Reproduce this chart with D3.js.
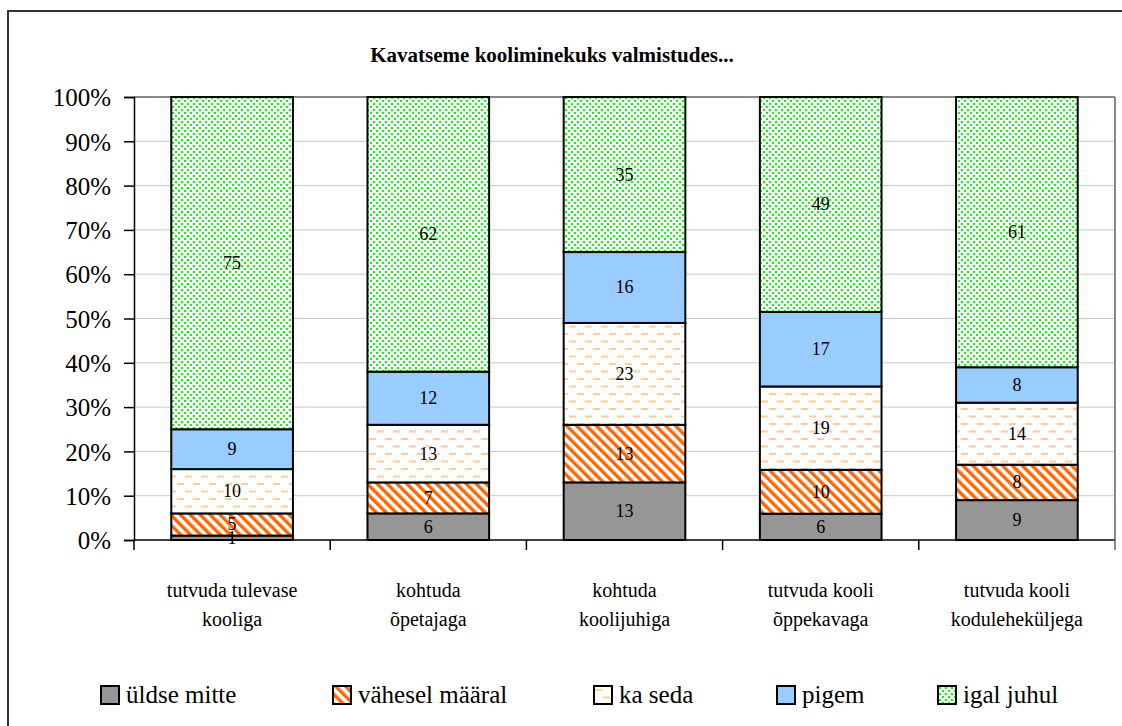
<!DOCTYPE html>
<html>
<head>
<meta charset="utf-8">
<script src="https://cdn.jsdelivr.net/npm/d3@7"></script>
</head>
<body style="margin:0">
<script>
// data
var categories = [
    ["tutvuda tulevase", "kooliga"],
    ["kohtuda", "õpetajaga"],
    ["kohtuda", "koolijuhiga"],
    ["tutvuda kooli", "õppekavaga"],
    ["tutvuda kooli", "koduleheküljega"]
];
var seriesNames = ["üldse mitte", "vähesel määral", "ka seda", "pigem", "igal juhul"];
var yldseMitte    = [1, 6, 13, 6, 9];
var vaheselMaaral = [5, 7, 13, 10, 8];
var kaSeda        = [10, 13, 23, 19, 14];
var pigem         = [9, 12, 16, 17, 8];
var igalJuhul     = [75, 62, 35, 49, 61];
var yTicks = [0, 0.1, 0.2, 0.3, 0.4, 0.5, 0.6, 0.7, 0.8, 0.9, 1];

var values = [yldseMitte, vaheselMaaral, kaSeda, pigem, igalJuhul];
var fills = ["#969696", "url(#hatch)", "url(#dashes)", "#99ccff", "url(#dots)"];
var FONT = "'Liberation Serif'";

var W = 1122, H = 726;
var plot = { left: 134, right: 1115, top: 97, bottom: 540 };

var svg = d3.select("body").append("svg")
    .attr("width", W)
    .attr("height", H);

// patterns
var defs = svg.append("defs");

var hatch = defs.append("pattern")
    .attr("id", "hatch")
    .attr("patternUnits", "userSpaceOnUse")
    .attr("width", 7).attr("height", 7)
    .attr("patternTransform", "rotate(-45)");
hatch.append("rect").attr("width", 7).attr("height", 7).attr("fill", "#fff");
hatch.append("rect").attr("x", 0).attr("width", 3.4).attr("height", 7).attr("fill", "#ff6600");

var dashes = defs.append("pattern")
    .attr("id", "dashes")
    .attr("patternUnits", "userSpaceOnUse")
    .attr("width", 16).attr("height", 15);
dashes.append("rect").attr("width", 16).attr("height", 15).attr("fill", "#fff");
dashes.append("rect").attr("x", 1).attr("y", 3).attr("width", 7).attr("height", 2).attr("fill", "#ffcc99");
dashes.append("rect").attr("x", 9).attr("y", 10.5).attr("width", 7).attr("height", 2).attr("fill", "#ffcc99");

var dots = defs.append("pattern")
    .attr("id", "dots")
    .attr("patternUnits", "userSpaceOnUse")
    .attr("width", 6).attr("height", 6);
dots.append("rect").attr("width", 6).attr("height", 6).attr("fill", "#fff");
dots.append("rect").attr("x", 1).attr("y", 1).attr("width", 2).attr("height", 2).attr("fill", "#00ff00");
dots.append("rect").attr("x", 4).attr("y", 4).attr("width", 2).attr("height", 2).attr("fill", "#00ff00");

// outer chart border (runs off the page)
svg.append("rect")
    .attr("x", 8).attr("y", 11)
    .attr("width", 1130).attr("height", 730)
    .attr("fill", "none")
    .attr("stroke", "#333")
    .attr("stroke-width", 2);

// title
svg.append("text")
    .attr("x", 552).attr("y", 62)
    .attr("text-anchor", "middle")
    .attr("font-weight", "bold")
    .attr("font-size", 21)
    .text("Kavatseme kooliminekuks valmistudes...");

// scales
var x = d3.scaleBand()
    .domain(d3.range(categories.length))
    .range([plot.left, plot.right])
    .paddingInner(0.38)
    .paddingOuter(0.19);

var y = d3.scaleLinear()
    .domain([0, 1])
    .range([plot.bottom, plot.top]);

// gridlines
svg.append("g")
    .selectAll("line")
    .data(yTicks.slice(1, -1))
    .enter().append("line")
    .attr("x1", plot.left).attr("x2", plot.right)
    .attr("y1", function(d) { return y(d); })
    .attr("y2", function(d) { return y(d); })
    .attr("stroke", "#c8c8c8")
    .attr("stroke-width", 1);

// plot area border top / right
svg.append("line")
    .attr("x1", plot.left).attr("x2", plot.right)
    .attr("y1", y(1)).attr("y2", y(1))
    .attr("stroke", "#888").attr("stroke-width", 2);
svg.append("line")
    .attr("x1", plot.right).attr("x2", plot.right)
    .attr("y1", y(1)).attr("y2", plot.bottom + 10)
    .attr("stroke", "#888").attr("stroke-width", 2);

// stack (percent)
var rows = categories.map(function(c, i) {
    var r = { i: i };
    var total = 0;
    values.forEach(function(v) { total += v[i]; });
    r.total = total;
    values.forEach(function(v, s) { r["s" + s] = v[i]; });
    return r;
});
var keys = seriesNames.map(function(d, s) { return "s" + s; });
var stacked = d3.stack().keys(keys)
    .value(function(d, k) { return d[k] / d.total; })(rows);

var layers = svg.append("g")
    .selectAll("g")
    .data(stacked)
    .enter().append("g")
    .attr("fill", function(d, s) { return fills[s]; });

layers.selectAll("rect")
    .data(function(d) { return d; })
    .enter().append("rect")
    .attr("x", function(d) { return x(d.data.i); })
    .attr("y", function(d) { return y(d[1]); })
    .attr("width", x.bandwidth())
    .attr("height", function(d) { return y(d[0]) - y(d[1]); })
    .attr("stroke", "#000")
    .attr("stroke-width", 2);

// value labels
stacked.forEach(function(layer, s) {
    svg.append("g")
        .selectAll("text")
        .data(layer)
        .enter().append("text")
        .attr("x", function(d) { return x(d.data.i) + x.bandwidth() / 2; })
        .attr("y", function(d) { return (y(d[0]) + y(d[1])) / 2 + 6; })
        .attr("text-anchor", "middle")
        .attr("font-size", 18)
        .text(function(d) { return values[s][d.data.i]; });
});

// y axis
var yAxis = svg.append("g")
    .attr("transform", "translate(" + plot.left + ",0)")
    .call(d3.axisLeft(y).tickValues(yTicks).tickFormat(d3.format(".0%")).tickSize(10).tickPadding(13));
yAxis.attr("font-family", null).attr("font-size", null);
yAxis.select(".domain").attr("stroke", "#000").attr("stroke-width", 1.5);
yAxis.selectAll(".tick line").attr("stroke", "#000").attr("stroke-width", 1.5);
yAxis.selectAll(".tick text")
    .attr("fill", "#000")
    .attr("dy", "0.35em")
    .attr("font-size", 25);

// x axis line and ticks at category boundaries
svg.append("line")
    .attr("x1", plot.left).attr("x2", plot.right)
    .attr("y1", plot.bottom).attr("y2", plot.bottom)
    .attr("stroke", "#000").attr("stroke-width", 1.5);
svg.append("g")
    .selectAll("line")
    .data(d3.range(categories.length + 1))
    .enter().append("line")
    .attr("x1", function(d) { return plot.left + d * x.step(); })
    .attr("x2", function(d) { return plot.left + d * x.step(); })
    .attr("y1", plot.bottom)
    .attr("y2", plot.bottom + 10)
    .attr("stroke", function(d) { return d === categories.length ? "#888" : "#000"; })
    .attr("stroke-width", 1.5);

// category labels
var xl = svg.append("g")
    .selectAll("text")
    .data(categories)
    .enter().append("text")
    .attr("text-anchor", "middle")
    .attr("font-size", 20)
    .attr("transform", function(d, i) {
        return "translate(" + (x(i) + x.bandwidth() / 2) + ",597)";
    });
xl.selectAll("tspan")
    .data(function(d) { return d; })
    .enter().append("tspan")
    .attr("x", 0)
    .attr("y", function(d, i) { return i * 29; })
    .text(function(d) { return d; });

// legend
var legendX = [101, 333, 594, 777, 938];
var legend = svg.append("g")
    .selectAll("g")
    .data(seriesNames)
    .enter().append("g")
    .attr("transform", function(d, i) { return "translate(" + legendX[i] + ",686)"; });
legend.append("rect")
    .attr("width", 18).attr("height", 18)
    .attr("fill", function(d, i) { return fills[i]; })
    .attr("stroke", "#000")
    .attr("stroke-width", 2);
legend.append("text")
    .attr("x", 25).attr("y", 17)
    .attr("font-size", 25)
    .text(function(d) { return d; });

// serif font on every text, set last
svg.selectAll("text")
    .attr("font-family", "Liberation Serif")
    .style("font-family", FONT);
</script>
</body>
</html>
